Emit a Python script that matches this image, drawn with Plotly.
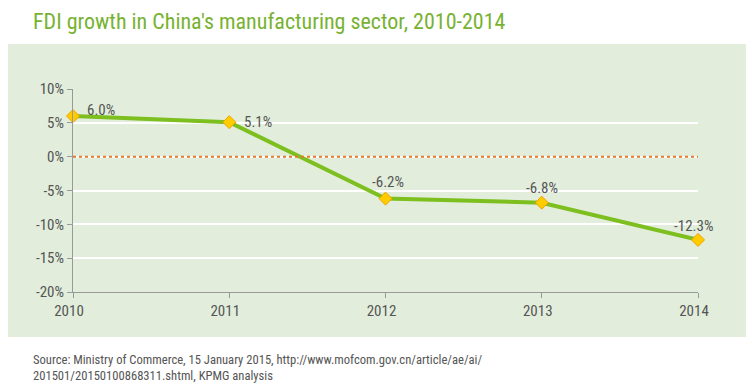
import plotly.graph_objects as go

years = ["2010", "2011", "2012", "2013", "2014"]
growth = [6.0, 5.1, -6.2, -6.8, -12.3]
labels = ["6.0%", "5.1%", "-6.2%", "-6.8%", "-12.3%"]
label_dx = [28, 29, 2, 0, -5]
label_dy = [6, 0, 17, 15, 14]
ytick_vals = [10, 5, 0, -5, -10, -15, -20]
ytick_text = ["10%", "5%", "0%", "-5%", "-10%", "-15%", "-20%"]

FONT = "Liberation Sans Narrow, Roboto Condensed, Arial Narrow, Roboto, sans-serif"
OFF = 8  # page body margin
W, H = 754 - OFF, 390 - OFF
L, R, T, B = 73 - OFF, 56, 89 - OFF, 98
pw, ph = W - L - R, H - T - B

def px(x):
    return (x - OFF - L) / pw

def py(y):
    return (H - B - (y - OFF)) / ph

fig = go.Figure()
fig.add_trace(go.Scatter(
    x=list(range(len(years))), y=growth,
    mode="lines+markers",
    line=dict(color="#7cbf1e", width=4),
    marker=dict(symbol="diamond", size=10, color="#ffcc00",
                line=dict(color="#f0a000", width=1)),
    cliponaxis=False, showlegend=False,
))

for i, (v, t) in enumerate(zip(growth, labels)):
    fig.add_annotation(x=i, y=v, text=t, showarrow=False,
                       xshift=label_dx[i], yshift=label_dy[i],
                       font=dict(family=FONT, size=15, color="#555555"))

fig.add_shape(type="rect", xref="paper", yref="paper",
              x0=px(8), x1=px(746), y0=py(337), y1=py(44),
              fillcolor="#e2eedb", line_width=0, layer="below")
fig.add_shape(type="line", xref="x", yref="y", x0=0, x1=4, y0=0, y1=0,
              line=dict(color="#e8772a", width=2, dash="dot"), layer="above")

fig.add_annotation(text="FDI growth in China's manufacturing sector, 2010-2014",
                   xref="paper", yref="paper", x=px(31), y=py(21),
                   xanchor="left", yanchor="middle", showarrow=False,
                   font=dict(family=FONT, size=22, color="#78b232"))
fig.add_annotation(text="Source: Ministry of Commerce, 15 January 2015, http://www.mofcom.gov.cn/article/ae/ai/<br>201501/20150100868311.shtml, KPMG analysis",
                   xref="paper", yref="paper", x=px(31), y=py(367),
                   xanchor="left", yanchor="middle", align="left", showarrow=False,
                   font=dict(family=FONT, size=12.6, color="#555555"))

fig.update_layout(
    width=W, height=H,
    margin=dict(l=L, r=R, t=T, b=B),
    paper_bgcolor="white", plot_bgcolor="rgba(0,0,0,0)",
    font=dict(family=FONT, color="#555555", size=14),
    xaxis=dict(range=[0, 4], tickvals=list(range(len(years))), ticktext=years,
               showgrid=False, zeroline=False, showline=True, linecolor="#999999",
               ticks="outside", ticklen=5, tickcolor="#999999", ticklabelshift=-4,
               tickfont=dict(family=FONT, size=15, color="#555555")),
    yaxis=dict(range=[-20, 10], tickvals=ytick_vals, ticktext=ytick_text,
               showgrid=True, gridcolor="#ffffff", gridwidth=1.5, zeroline=False,
               showline=True, linecolor="#999999",
               ticks="outside", ticklen=5, tickcolor="#999999",
               tickfont=dict(family=FONT, size=15, color="#555555")),
)

fig.write_html("out.html")
